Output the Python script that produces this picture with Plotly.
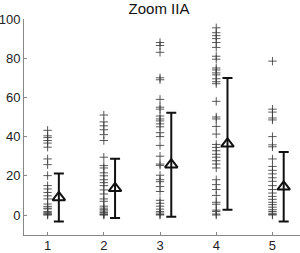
import plotly.graph_objects as go

groups = [1, 2, 3, 4, 5]
g1 = [43.2, 40.4, 39.5, 38, 36.7, 34.6, 28.6, 25.7, 20.1, 15, 13.3, 11.5, 9.8, 8.2, 5.6, 4.4, 3.5, 3.1, 1.8, 1.2, 0.7, 0.2, 0]
g2 = [51, 47.5, 45.5, 43.5, 41, 38, 29.5, 25.2, 24, 21.5, 20, 18, 16.5, 15, 12.8, 10.7, 8.2, 7, 4.5, 3.5, 2.7, 2, 1.3, 0.6, 0.2, 0]
g3 = [88, 86.5, 83, 70, 69, 59, 55, 54, 50.5, 49, 48, 46.5, 45, 42, 40, 35.5, 30, 26, 25.3, 20.3, 18, 17, 14.5, 12, 7.5, 6, 4.5, 3, 1.8, 1, 0.3, 0]
g4 = [95.5, 93, 91.5, 90, 88, 85.5, 81, 79.5, 75, 74, 72.5, 71.5, 69.5, 68, 67, 58, 50, 49, 45.2, 41.3, 36, 34.5, 32.8, 31, 29.5, 27.7, 26, 24, 18, 15.5, 13, 10, 6.5, 5.5, 2.5, 1.8, 0.5, 0]
g5 = [78.5, 54, 52.5, 49.5, 48.5, 40, 35.8, 34.8, 28.6, 24.8, 22.8, 21, 19, 17.2, 15, 13, 11.2, 9.5, 8, 6.5, 5.3, 4, 2.7, 1.8, 0.9, 0.3, 0]
means = [8.95, 13.6, 25.65, 36.3, 14.4]
sds = [12.25, 15.1, 26.55, 33.6, 17.7]
tick_labels = ["1", "2", "3", "4", "5"]
title_text = "Zoom IIA"

fig = go.Figure()
for g, vals in zip(groups, [g1, g2, g3, g4, g5]):
    fig.add_trace(go.Scatter(
        x=[g] * len(vals), y=vals, mode="markers",
        marker=dict(symbol="cross-thin", size=6, color="rgba(60,60,60,0.85)",
                    line=dict(width=1, color="rgba(60,60,60,0.85)")),
        showlegend=False, hoverinfo="skip"))

fig.add_trace(go.Scatter(
    x=[g + 0.2 for g in groups], y=means, mode="markers",
    marker=dict(symbol="triangle-up-open", size=11, color="#111",
                line=dict(width=2, color="#111")),
    error_y=dict(type="data", array=sds, visible=True, color="#111",
                 thickness=2, width=5),
    cliponaxis=False,
    showlegend=False))

font = "Liberation Sans, Arial, sans-serif"
fig.update_layout(
    width=300, height=253,
    margin=dict(l=24, r=0, t=19, b=18, autoexpand=False),
    paper_bgcolor="white", plot_bgcolor="white",
    title=dict(text=title_text, x=0.53, xanchor="center", y=0.985, yanchor="top",
               automargin=False,
               font=dict(family=font, size=15, color="#111")),
    font=dict(family=font, size=13, color="#222"),
)
fig.update_xaxes(range=[0.58, 5.49], tickvals=groups, ticktext=tick_labels,
                 automargin=False, ticklabelstandoff=-2,
                 showgrid=False, zeroline=False, showline=True, linecolor="#888",
                 linewidth=1, ticks="inside", ticklen=3, tickcolor="#888",
                 tickfont=dict(size=13, color="#222"))
fig.update_yaxes(range=[-10.2, 100], tickvals=[0, 20, 40, 60, 80, 100],
                 automargin=False,
                 showgrid=False, zeroline=False, showline=True, linecolor="#888",
                 linewidth=1, ticks="inside", ticklen=3, tickcolor="#888",
                 tickfont=dict(size=13, color="#222"))

fig.write_html("out.html", config={"displayModeBar": False},
               post_script="document.body.style.margin='0';document.body.style.overflow='hidden';")
